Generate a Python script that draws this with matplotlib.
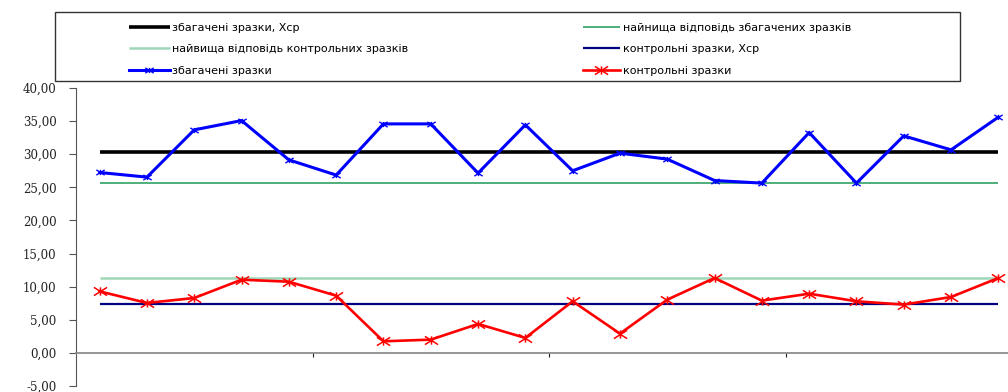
import numpy as np
import matplotlib
matplotlib.use("Agg")
import matplotlib.pyplot as plt
from matplotlib.path import Path
from matplotlib.lines import Line2D
from matplotlib.patches import Rectangle

# Sample numbers along the x axis
samples = np.arange(1, 21)

# Measured responses
enriched = [27.24, 26.54, 33.68, 35.08, 29.15, 26.85, 34.58, 34.58, 27.15, 34.43,
            27.50, 30.16, 29.26, 26.03, 25.64, 33.27, 25.64, 32.77, 30.66, 35.60]
control = [9.29, 7.54, 8.29, 11.05, 10.75, 8.64, 1.75, 2.00, 4.37, 2.26,
           7.79, 2.91, 8.04, 11.31, 7.89, 8.94, 7.79, 7.29, 8.44, 11.31]

# Reference levels
enriched_mean = 30.3
enriched_lowest = 25.7
control_highest = 11.3
control_mean = 7.35

labels = {
    "enr_mean": "збагачені зразки, Хср",
    "enr_low": "найнища відповідь збагачених зразків",
    "ctl_high": "найвища відповідь контрольних зразків",
    "ctl_mean": "контрольні зразки, Хср",
    "enr": "збагачені зразки",
    "ctl": "контрольні зразки",
}

yticks = np.arange(-5, 41, 5)


def star_marker(sx=1.6):
    # x with a vertical bar, a bit wider than tall
    verts = [(-sx, -1), (sx, 1), (-sx, 1), (sx, -1), (0, -1), (0, 1)]
    codes = [Path.MOVETO, Path.LINETO] * 3
    return Path(verts, codes)


def main() -> None:
    fig = plt.figure(figsize=(10.08, 3.92), dpi=100)
    ax = fig.add_axes([76 / 1008, 6 / 392, 946 / 1008, 298 / 392])

    mk = star_marker()
    n = len(samples)

    l_em, = ax.plot(samples, [enriched_mean] * n, color="black", lw=2.6, solid_capstyle="butt")
    l_el, = ax.plot(samples, [enriched_lowest] * n, color="#4dae7a", lw=1.4, solid_capstyle="butt")
    l_ch, = ax.plot(samples, [control_highest] * n, color="#9fd6b8", lw=1.8, solid_capstyle="butt")
    l_cm, = ax.plot(samples, [control_mean] * n, color="#000080", lw=1.6, solid_capstyle="butt")
    l_e, = ax.plot(samples, enriched, color="#0000ff", lw=2.2, marker=mk, ms=6,
                   mec="#0000ff", mew=1.0)
    l_c, = ax.plot(samples, control, color="#ff0000", lw=1.9, marker=mk, ms=9.5,
                   mec="#ff0000", mew=1.1)

    ax.set_xlim(0.5, 20.5)
    ax.set_ylim(-5, 40)
    ax.set_yticks(yticks)
    ax.set_yticklabels([f"{v:.2f}".replace(".", ",") for v in yticks],
                       fontfamily="DejaVu Serif", fontsize=8.5, color="#222222")
    ax.set_xticks([5.5, 10.5, 15.5])
    ax.set_xticklabels([])

    for side in ("top", "right"):
        ax.spines[side].set_visible(False)
    ax.spines["left"].set_color("#555555")
    ax.spines["bottom"].set_position(("data", 0))
    ax.spines["bottom"].set_color("#8c8c8c")
    ax.spines["bottom"].set_linewidth(1.3)
    ax.tick_params(axis="y", direction="out", length=5, color="#555555", pad=9)
    ax.tick_params(axis="x", direction="out", length=3, color="#222222")

    # legend: frame plus two columns of entries
    fig.patches.append(Rectangle((55 / 1008, 1 - 81 / 392), 905 / 1008, 69 / 392,
                                 transform=fig.transFigure, fill=False,
                                 edgecolor="#333333", lw=1.0))
    leg_kw = dict(loc="upper left", frameon=False, borderpad=0, handletextpad=0.2,
                  labelspacing=1.05, prop={"family": "DejaVu Sans", "size": 8})
    fig.legend([l_em, l_ch, l_e], [labels["enr_mean"], labels["ctl_high"], labels["enr"]],
               bbox_to_anchor=(123 / 1008, 1 - 17 / 392), handlelength=3.7, **leg_kw)
    fig.legend([l_el, l_cm, l_c], [labels["enr_low"], labels["ctl_mean"], labels["ctl"]],
               bbox_to_anchor=(577 / 1008, 1 - 17 / 392), handlelength=3.4, **leg_kw)

    fig.savefig("out.png", dpi=100)


if __name__ == "__main__":
    main()
